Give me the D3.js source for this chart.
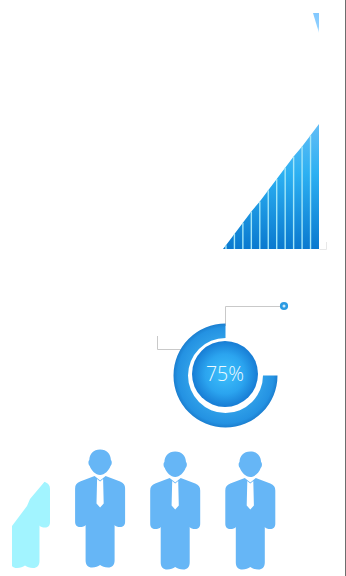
<!DOCTYPE html>
<html>
<head>
<meta charset="utf-8">
<script src="https://cdn.jsdelivr.net/npm/d3@7/dist/d3.min.js"></script>
<style>
html,body{margin:0;padding:0;background:#fff;overflow:hidden}
svg{display:block}
</style>
</head>
<body>
<svg id="chart" width="346" height="576"></svg>
<script>
// Rising ramp: column edges and the ramp height at each edge (percent)
const rampEdges = [-0.35, 0, 1, 2, 3, 4, 5, 6, 7, 8, 9, 10, 11];
const rampValues = [0, 3, 12, 21, 30, 38, 47, 56, 65, 74, 82, 91, 100];
// Gauge
const gaugeValues = [75, 25];
const gaugeLabel = "75%";
// Head-count row
const peopleColours = ["#a2f4ff", "#66b6f6", "#66b6f6", "#66b6f6"];
const peopleSlots = [0, 1, 2, 3];
const peopleTops = [0, -0.5, 1.5, 1.5];
const peopleTies = [false, true, true, true];

const svg = d3.select("#chart");
const defs = svg.append("defs");

svg.append("line").attr("x1", 345.5).attr("x2", 345.5).attr("y1", 0).attr("y2", 576)
  .attr("stroke", "#6e6e6e").attr("stroke-width", 1);

// Ramp gradient
const rampGrad = defs.append("linearGradient").attr("id", "rampFill")
  .attr("gradientUnits", "userSpaceOnUse").attr("x1", 0).attr("x2", 0).attr("y1", 249).attr("y2", 124);
[[0, "#0a79cf"], [0.6, "#2cb0f2"], [1, "#62bdf6"]].forEach(([o, c]) =>
  rampGrad.append("stop").attr("offset", o).attr("stop-color", c));

const rampX = d3.scaleLinear().domain([-0.35, 11]).range([223, 319]);
const rampY = d3.scaleLinear().domain([0, 100]).range([249, 124]);
const rampArea = d3.area()
  .x(d => rampX(d.edge)).y0(rampY(0)).y1(d => rampY(d.value));
const rampData = rampEdges.map((edge, i) => ({edge, value: rampValues[i]}));

svg.append("path").datum(rampData).attr("d", rampArea).attr("fill", "url(#rampFill)");
svg.append("g").selectAll("line").data(rampData.slice(1, -1)).join("line")
  .attr("x1", d => rampX(d.edge)).attr("x2", d => rampX(d.edge))
  .attr("y1", rampY(0)).attr("y2", d => rampY(d.value))
  .attr("stroke", "#a2e6f8").attr("stroke-width", 1.4);

// Tick corner beside the ramp
svg.append("path").attr("d", d3.line()([[319.5, 249.5], [326.5, 249.5], [326.5, 242]]))
  .attr("fill", "none").attr("stroke", "#e8e8e8");

// Tip of the descending wedge at the top edge
const wedgeGrad = defs.append("linearGradient").attr("id", "wedgeFill")
  .attr("x1", 0).attr("x2", 0).attr("y1", 0).attr("y2", 1);
wedgeGrad.append("stop").attr("offset", 0).attr("stop-color", "#82c8ff");
wedgeGrad.append("stop").attr("offset", 0.7).attr("stop-color", "#8fd0ff");
wedgeGrad.append("stop").attr("offset", 1).attr("stop-color", "#d8eeff");
svg.append("path").attr("d", d3.line()([[313, 13], [319, 13], [319, 33]]))
  .attr("fill", "url(#wedgeFill)");

// Gauge
const cx = 225.5, cy = 375.5;
const ringGrad = defs.append("radialGradient").attr("id", "ringFill")
  .attr("gradientUnits", "userSpaceOnUse").attr("cx", 0).attr("cy", 0).attr("r", 52);
[[0.7, "#2f9fe8"], [0.92, "#2492e2"], [1, "#1b7ecf"]].forEach(([o, c]) =>
  ringGrad.append("stop").attr("offset", o).attr("stop-color", c));
const discGrad = defs.append("radialGradient").attr("id", "discFill");
[[0, "#3ec0fc"], [0.6, "#2ba4ef"], [1, "#177cd4"]].forEach(([o, c]) =>
  discGrad.append("stop").attr("offset", o).attr("stop-color", c));

// Leader lines run underneath the ring
const leader = d3.line();
svg.append("path").attr("d", leader([[225.5, 326], [225.5, 306.5], [281, 306.5]]))
  .attr("fill", "none").attr("stroke", "#c9c9c9");
svg.append("path").attr("d", leader([[157.5, 336], [157.5, 349.5], [182, 349.5]]))
  .attr("fill", "none").attr("stroke", "#c9c9c9");
svg.append("circle").attr("cx", 284).attr("cy", 306).attr("r", 2.8)
  .attr("fill", "#cfe9fa").attr("stroke", "#2b9be2").attr("stroke-width", 2.6);

const pie = d3.pie().sort(null).startAngle(Math.PI / 2).endAngle(Math.PI / 2 + 2 * Math.PI);
const arc = d3.arc().innerRadius(37.5).outerRadius(52);
const gauge = svg.append("g").attr("transform", `translate(${cx},${cy})`);
gauge.selectAll("path").data(pie(gaugeValues).slice(0, 1)).join("path")
  .attr("d", arc).attr("fill", "url(#ringFill)");
svg.append("circle").attr("cx", 225).attr("cy", 374).attr("r", 33).attr("fill", "url(#discFill)");
svg.append("text").attr("x", 225).attr("y", 381).attr("text-anchor", "middle")
  .attr("font-family", "'Open Sans', sans-serif").attr("font-weight", 300).attr("font-size", 19.5)
  .attr("fill", "#eefaff").text(gaugeLabel);

// Head-count row: one figure per slot
const personX = d3.scaleLinear().domain([0, 3]).range([25, 250.3]);
const figurePath = "M0,0C6.8,0 10.5,4.5 10.8,10.5C12,11.5 12,15 10.4,16.5C8.8,21 4.5,25.5 0,25.5"
  + "C-4.5,25.5 -8.8,21 -10.4,16.5C-12,15 -12,11.5 -10.8,10.5C-10.5,4.5 -6.8,0 0,0Z"
  + "M-5.5,26.5L0,31L5.5,26.5L20,32C23.5,33.3 25,35.5 25,39L25,72C25,76 23,77.5 20,77.5"
  + "C17.5,77.5 15.5,77 14.5,75.5L14.5,111C14.5,115.5 12,118 8,118C4.5,118 2.2,117 0,115.5"
  + "C-2.2,117 -4.5,118 -8,118C-12,118 -14.5,115.5 -14.5,111L-14.5,75.5C-15.5,77 -17.5,77.5 -20,77.5"
  + "C-23,77.5 -25,76 -25,72L-25,39C-25,35.5 -23.5,33.3 -20,32Z";
const tiePath = "M-3,29.5L0,32L3,29.5L3.6,54L0,58L-3.6,54Z";

// The first figure is only partly filled, cut along a rising diagonal
const partial = defs.append("clipPath").attr("id", "partialFill");
partial.append("path").attr("d", d3.line()([[12, 580], [12, 526], [27, 506], [30, 499], [46, 480], [60, 480], [60, 580]]));

const people = svg.append("g").selectAll("g").data(peopleSlots).join("g")
  .attr("clip-path", d => peopleTies[d] ? null : "url(#partialFill)");
const figures = people.append("g")
  .attr("transform", d => `translate(${personX(d)},${450 + peopleTops[d]})`);
figures.append("path").attr("d", figurePath).attr("fill", d => peopleColours[d]);
figures.filter(d => peopleTies[d]).append("path").attr("d", tiePath).attr("fill", "#fff");
</script>
</body>
</html>
